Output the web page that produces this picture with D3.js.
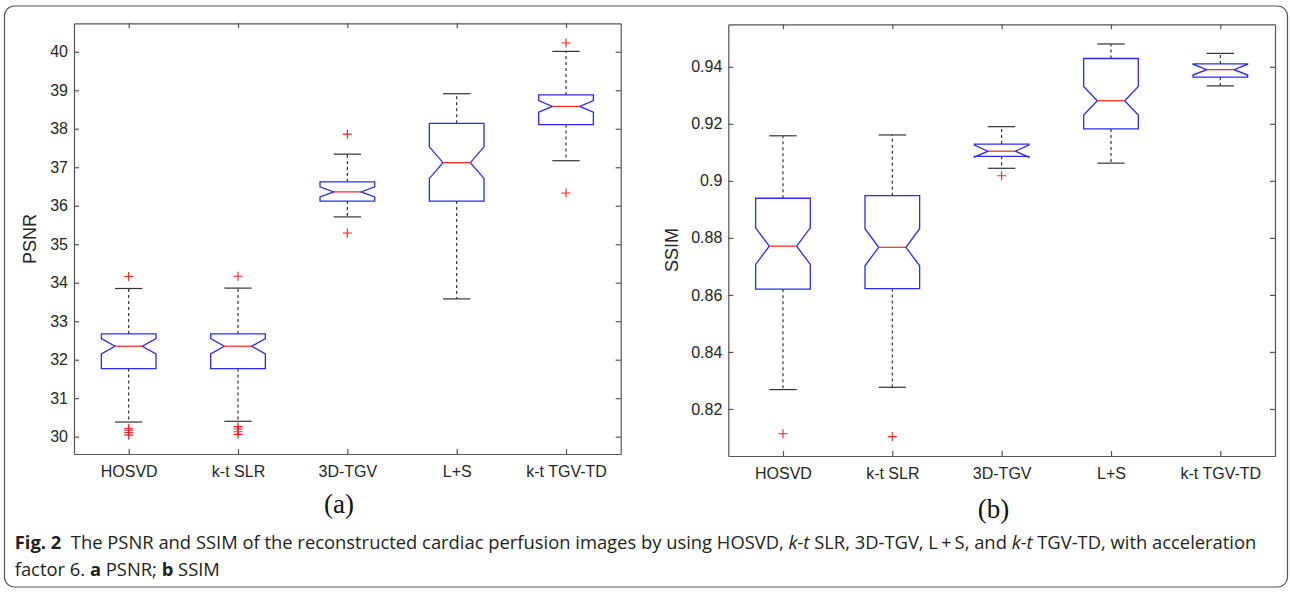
<!DOCTYPE html>
<html lang="en">
<head>
<meta charset="UTF-8">
<title>PSNR / SSIM boxplots</title>
<script src="https://d3js.org/d3.v7.min.js"></script>
<style>
  body { margin: 0; background: #fff; }
  svg text { font-family: "Liberation Sans", Arial, sans-serif; }
</style>
</head>
<body>
<svg id="main" width="1290" height="592"></svg>
<script>
const categories = ["HOSVD", "k-t SLR", "3D-TGV", "L+S", "k-t TGV-TD"];

// PSNR (a)
const psnrLo     = [30.38, 30.40, 35.71, 33.58, 37.17];
const psnrQ1     = [31.77, 31.77, 36.12, 36.12, 38.11];
const psnrMedian = [32.35, 32.35, 36.36, 37.12, 38.58];
const psnrQ3     = [32.67, 32.67, 36.62, 38.14, 38.88];
const psnrHi     = [33.85, 33.86, 37.34, 38.91, 40.01];
const psnrNotch  = [0.20, 0.20, 0.13, 0.41, 0.15];
const psnrOutliers = [
  [34.16, 30.22, 30.17, 30.11, 30.04],
  [34.17, 30.26, 30.20, 30.13, 30.06],
  [37.86, 35.29],
  [],
  [40.23, 36.33]
];
const psnrTicks = [30, 31, 32, 33, 34, 35, 36, 37, 38, 39, 40];

// SSIM (b)
const ssimLo     = [0.8268, 0.8276, 0.9044, 0.9062, 0.9333];
const ssimQ1     = [0.8620, 0.8622, 0.9086, 0.9182, 0.9364];
const ssimMedian = [0.8771, 0.8767, 0.9104, 0.9281, 0.9390];
const ssimQ3     = [0.8939, 0.8948, 0.9129, 0.9429, 0.9410];
const ssimHi     = [0.9158, 0.9161, 0.9190, 0.9480, 0.9447];
const ssimNotch  = [0.0064, 0.0065, 0.0021, 0.0050, 0.0019];
const ssimOutliers = [[0.8113], [0.8103], [0.9018], [], []];
const ssimTicks = [0.82, 0.84, 0.86, 0.88, 0.9, 0.92, 0.94];

const svg = d3.select("svg#main");

// outer frame
svg.append("rect")
  .attr("x", 4.5).attr("y", 6).attr("width", 1283).attr("height", 581)
  .attr("rx", 10)
  .attr("fill", "none").attr("stroke", "#555").attr("stroke-width", 1.2);

function drawPanel(p) {
  const g = svg.append("g");
  const x = d3.scalePoint().domain(categories).range([p.left, p.right]).padding(0.5);
  const y = d3.scaleLinear().domain(p.domain).range([p.bottom, p.top]);
  const step = x.step();
  const hw = step * 0.25;

  const axisColor = "#555";
  function styleAxis(sel, labels) {
    sel.select(".domain").attr("stroke", axisColor).attr("stroke-width", 1.2);
    sel.selectAll(".tick line").attr("stroke", axisColor).attr("stroke-width", 1.2);
    sel.selectAll(".tick text")
      .attr("fill", "#262626")
      .style("font-size", "16px")
      .style("font-family", "'Liberation Sans', Arial, sans-serif");
    if (!labels) sel.selectAll(".tick text").remove();
  }

  g.append("g").attr("transform", `translate(0,${p.bottom})`)
    .call(d3.axisBottom(x).tickSizeInner(-5).tickSizeOuter(0).tickPadding(12))
    .call(s => styleAxis(s, true));
  g.append("g").attr("transform", `translate(0,${p.top})`)
    .call(d3.axisTop(x).tickSizeInner(-5).tickSizeOuter(0))
    .call(s => styleAxis(s, false));
  g.append("g").attr("transform", `translate(${p.left},0)`)
    .call(d3.axisLeft(y).tickValues(p.ticks).tickFormat(d => String(d))
      .tickSizeInner(-5).tickSizeOuter(0).tickPadding(6))
    .call(s => styleAxis(s, true));
  g.append("g").attr("transform", `translate(${p.right},0)`)
    .call(d3.axisRight(y).tickValues(p.ticks).tickSizeInner(-5).tickSizeOuter(0))
    .call(s => styleAxis(s, false));

  const rows = categories.map((c, i) => ({
    c, lo: p.lo[i], q1: p.q1[i], med: p.med[i], q3: p.q3[i], hi: p.hi[i],
    notch: p.notch[i], out: p.out[i]
  }));

  const box = g.selectAll("g.box").data(rows).enter().append("g").attr("class", "box");

  // whiskers
  box.append("line")
    .attr("x1", d => x(d.c)).attr("x2", d => x(d.c))
    .attr("y1", d => y(d.q3)).attr("y2", d => y(d.hi))
    .attr("stroke", "#222").attr("stroke-width", 1.1).attr("stroke-dasharray", "3,3");
  box.append("line")
    .attr("x1", d => x(d.c)).attr("x2", d => x(d.c))
    .attr("y1", d => y(d.q1)).attr("y2", d => y(d.lo))
    .attr("stroke", "#222").attr("stroke-width", 1.1).attr("stroke-dasharray", "3,3");
  // caps
  ["hi", "lo"].forEach(k => {
    box.append("line")
      .attr("x1", d => x(d.c) - hw / 2).attr("x2", d => x(d.c) + hw / 2)
      .attr("y1", d => y(d[k])).attr("y2", d => y(d[k]))
      .attr("stroke", "#333").attr("stroke-width", 1.2);
  });

  // notched box
  box.append("path")
    .attr("d", d => {
      const cx = x(d.c);
      const pts = [
        [cx - hw, y(d.q3)], [cx - hw, y(d.med + d.notch)], [cx - hw / 2, y(d.med)],
        [cx - hw, y(d.med - d.notch)], [cx - hw, y(d.q1)], [cx + hw, y(d.q1)],
        [cx + hw, y(d.med - d.notch)], [cx + hw / 2, y(d.med)],
        [cx + hw, y(d.med + d.notch)], [cx + hw, y(d.q3)]
      ];
      return d3.line()(pts) + "Z";
    })
    .attr("fill", "none").attr("stroke", "#2b2bff").attr("stroke-width", 1.3);

  // median
  box.append("line")
    .attr("x1", d => x(d.c) - hw / 2).attr("x2", d => x(d.c) + hw / 2)
    .attr("y1", d => y(d.med)).attr("y2", d => y(d.med))
    .attr("stroke", "#ff2020").attr("stroke-width", 1.2);

  // outliers
  box.selectAll("path.out").data(d => d.out.map(v => ({ c: d.c, v })))
    .enter().append("path").attr("class", "out")
    .attr("transform", d => `translate(${x(d.c)},${y(d.v)})`)
    .attr("d", "M-4.5,0H4.5M0,-4.5V4.5")
    .attr("stroke", "#ff2020").attr("stroke-width", 1.1);

  // y label
  g.append("text")
    .attr("transform", `translate(${p.labelX},${p.labelY}) rotate(-90)`)
    .attr("text-anchor", "middle")
    .attr("fill", "#262626")
    .style("font-size", "18px")
    .text(p.label);

  // panel tag
  g.append("text")
    .attr("x", p.tagX).attr("y", p.tagY)
    .attr("text-anchor", "middle")
    .attr("fill", "#111")
    .style("font-family", "'Liberation Serif', 'Times New Roman', serif")
    .style("font-size", "27px")
    .text(p.tag);
}

drawPanel({
  left: 74, right: 620.7, top: 23.3, bottom: 454,
  domain: [29.55, 40.74], ticks: psnrTicks,
  lo: psnrLo, q1: psnrQ1, med: psnrMedian, q3: psnrQ3, hi: psnrHi,
  notch: psnrNotch, out: psnrOutliers,
  label: "PSNR", labelX: 36, labelY: 239,
  tag: "(a)", tagX: 339, tagY: 513
});

drawPanel({
  left: 728.3, right: 1275, top: 24.3, bottom: 456,
  domain: [0.8035, 0.9549], ticks: ssimTicks,
  lo: ssimLo, q1: ssimQ1, med: ssimMedian, q3: ssimQ3, hi: ssimHi,
  notch: ssimNotch, out: ssimOutliers,
  label: "SSIM", labelX: 677.5, labelY: 250,
  tag: "(b)", tagX: 993.5, tagY: 518
});

// caption
const capFont = "'Open Sans', 'Noto Sans', sans-serif";
function captionLine(parts) {
  const t = svg.append("text")
    .attr("fill", "#231f20")
    .style("font-family", capFont)
    .style("font-size", "17.5px")
    .attr("xml:space", "preserve");
  parts.forEach(pt => {
    t.append("tspan")
      .style("font-weight", pt.b ? "bold" : null)
      .style("font-style", pt.i ? "italic" : null)
      .text(pt.t);
  });
  return t;
}

const line1 = captionLine([
  { t: "Fig. 2", b: true },
  { t: "  The PSNR and SSIM of the reconstructed cardiac perfusion images by using HOSVD, " },
  { t: "k-t", i: true },
  { t: " SLR, 3D-TGV, L\u2009+\u2009S, and " },
  { t: "k-t", i: true },
  { t: " TGV-TD, with acceleration" }
]);
const line2 = captionLine([
  { t: "factor 6. " },
  { t: "a", b: true },
  { t: " PSNR; " },
  { t: "b", b: true },
  { t: " SSIM" }
]);

// squeeze the caption to the width of the printed line (condensed face)
const w1 = line1.node().getComputedTextLength();
const sx = (1257 - 14.7) / w1;
line1.attr("transform", `translate(14.7,549) scale(${sx},1)`);
line2.attr("transform", `translate(14.7,576) scale(${sx},1)`);
</script>
</body>
</html>
